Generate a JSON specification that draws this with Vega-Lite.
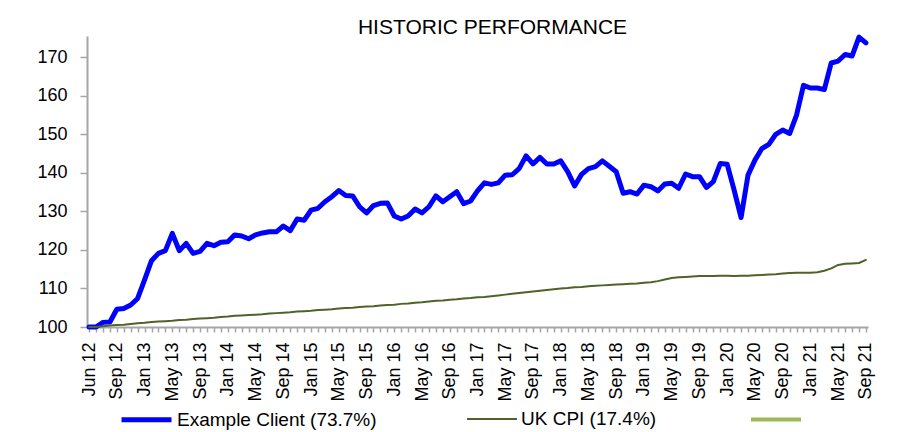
{
  "$schema": "https://vega.github.io/schema/vega-lite/v6.json",
  "width": 781,
  "height": 291,
  "autosize": {"type": "none"},
  "padding": {"left": 87, "top": 36, "right": 37, "bottom": 105},
  "background": "white",
  "title": {"text": "HISTORIC PERFORMANCE", "font": "Liberation Sans", "fontSize": 21, "fontWeight": "normal", "color": "#000000", "anchor": "middle", "dx": 15, "offset": -20, "baseline": "alphabetic"},
  "config": {"view": {"stroke": null}, "font": "Liberation Sans"},
  "data": {"values": [
    {"m": "May 12", "client": 100.0, "cpi": 100.0},
    {"m": "Jun 12", "client": 100.0, "cpi": 100.0},
    {"m": "Jul 12", "client": 101.2, "cpi": 100.2},
    {"m": "Aug 12", "client": 101.3, "cpi": 100.4},
    {"m": "Sep 12", "client": 104.6, "cpi": 100.5},
    {"m": "Oct 12", "client": 104.8, "cpi": 100.6},
    {"m": "Nov 12", "client": 105.7, "cpi": 100.8},
    {"m": "Dec 12", "client": 107.4, "cpi": 101.0},
    {"m": "Jan 13", "client": 112.2, "cpi": 101.1},
    {"m": "Feb 13", "client": 117.2, "cpi": 101.3},
    {"m": "Mar 13", "client": 119.1, "cpi": 101.4},
    {"m": "Apr 13", "client": 119.8, "cpi": 101.5},
    {"m": "May 13", "client": 124.3, "cpi": 101.6},
    {"m": "Jun 13", "client": 119.8, "cpi": 101.8},
    {"m": "Jul 13", "client": 121.7, "cpi": 101.9},
    {"m": "Aug 13", "client": 119.1, "cpi": 102.1},
    {"m": "Sep 13", "client": 119.6, "cpi": 102.2},
    {"m": "Oct 13", "client": 121.7, "cpi": 102.3},
    {"m": "Nov 13", "client": 121.1, "cpi": 102.4},
    {"m": "Dec 13", "client": 122.0, "cpi": 102.6},
    {"m": "Jan 14", "client": 122.1, "cpi": 102.7},
    {"m": "Feb 14", "client": 123.9, "cpi": 102.9},
    {"m": "Mar 14", "client": 123.6, "cpi": 103.0},
    {"m": "Apr 14", "client": 122.9, "cpi": 103.1},
    {"m": "May 14", "client": 123.9, "cpi": 103.2},
    {"m": "Jun 14", "client": 124.4, "cpi": 103.3},
    {"m": "Jul 14", "client": 124.7, "cpi": 103.5},
    {"m": "Aug 14", "client": 124.7, "cpi": 103.6},
    {"m": "Sep 14", "client": 126.2, "cpi": 103.7},
    {"m": "Oct 14", "client": 125.0, "cpi": 103.8},
    {"m": "Nov 14", "client": 128.0, "cpi": 104.0},
    {"m": "Dec 14", "client": 127.7, "cpi": 104.1},
    {"m": "Jan 15", "client": 130.3, "cpi": 104.2},
    {"m": "Feb 15", "client": 130.8, "cpi": 104.4},
    {"m": "Mar 15", "client": 132.5, "cpi": 104.5},
    {"m": "Apr 15", "client": 133.8, "cpi": 104.6},
    {"m": "May 15", "client": 135.4, "cpi": 104.8},
    {"m": "Jun 15", "client": 134.1, "cpi": 104.9},
    {"m": "Jul 15", "client": 134.0, "cpi": 105.0},
    {"m": "Aug 15", "client": 131.2, "cpi": 105.2},
    {"m": "Sep 15", "client": 129.6, "cpi": 105.3},
    {"m": "Oct 15", "client": 131.5, "cpi": 105.4},
    {"m": "Nov 15", "client": 132.1, "cpi": 105.6},
    {"m": "Dec 15", "client": 132.2, "cpi": 105.7},
    {"m": "Jan 16", "client": 128.8, "cpi": 105.8},
    {"m": "Feb 16", "client": 128.0, "cpi": 106.0},
    {"m": "Mar 16", "client": 128.8, "cpi": 106.1},
    {"m": "Apr 16", "client": 130.6, "cpi": 106.3},
    {"m": "May 16", "client": 129.6, "cpi": 106.4},
    {"m": "Jun 16", "client": 131.2, "cpi": 106.6},
    {"m": "Jul 16", "client": 134.0, "cpi": 106.8},
    {"m": "Aug 16", "client": 132.5, "cpi": 106.9},
    {"m": "Sep 16", "client": 133.8, "cpi": 107.1},
    {"m": "Oct 16", "client": 135.1, "cpi": 107.2},
    {"m": "Nov 16", "client": 132.0, "cpi": 107.4},
    {"m": "Dec 16", "client": 132.7, "cpi": 107.5},
    {"m": "Jan 17", "client": 135.3, "cpi": 107.7},
    {"m": "Feb 17", "client": 137.4, "cpi": 107.8},
    {"m": "Mar 17", "client": 137.0, "cpi": 108.0},
    {"m": "Apr 17", "client": 137.4, "cpi": 108.2},
    {"m": "May 17", "client": 139.4, "cpi": 108.4},
    {"m": "Jun 17", "client": 139.5, "cpi": 108.6},
    {"m": "Jul 17", "client": 141.1, "cpi": 108.8},
    {"m": "Aug 17", "client": 144.4, "cpi": 109.0},
    {"m": "Sep 17", "client": 142.3, "cpi": 109.2},
    {"m": "Oct 17", "client": 144.0, "cpi": 109.4},
    {"m": "Nov 17", "client": 142.3, "cpi": 109.6},
    {"m": "Dec 17", "client": 142.3, "cpi": 109.8},
    {"m": "Jan 18", "client": 143.1, "cpi": 110.0},
    {"m": "Feb 18", "client": 140.3, "cpi": 110.1},
    {"m": "Mar 18", "client": 136.6, "cpi": 110.3},
    {"m": "Apr 18", "client": 139.6, "cpi": 110.4},
    {"m": "May 18", "client": 141.1, "cpi": 110.6},
    {"m": "Jun 18", "client": 141.6, "cpi": 110.7},
    {"m": "Jul 18", "client": 143.1, "cpi": 110.8},
    {"m": "Aug 18", "client": 141.7, "cpi": 110.9},
    {"m": "Sep 18", "client": 140.3, "cpi": 111.0},
    {"m": "Oct 18", "client": 134.7, "cpi": 111.1},
    {"m": "Nov 18", "client": 135.1, "cpi": 111.2},
    {"m": "Dec 18", "client": 134.5, "cpi": 111.3},
    {"m": "Jan 19", "client": 136.8, "cpi": 111.5},
    {"m": "Feb 19", "client": 136.4, "cpi": 111.6},
    {"m": "Mar 19", "client": 135.3, "cpi": 111.9},
    {"m": "Apr 19", "client": 137.1, "cpi": 112.3},
    {"m": "May 19", "client": 137.3, "cpi": 112.7},
    {"m": "Jun 19", "client": 136.0, "cpi": 112.9},
    {"m": "Jul 19", "client": 139.7, "cpi": 113.0},
    {"m": "Aug 19", "client": 139.0, "cpi": 113.1},
    {"m": "Sep 19", "client": 139.0, "cpi": 113.2},
    {"m": "Oct 19", "client": 136.2, "cpi": 113.2},
    {"m": "Nov 19", "client": 137.7, "cpi": 113.2},
    {"m": "Dec 19", "client": 142.4, "cpi": 113.3},
    {"m": "Jan 20", "client": 142.2, "cpi": 113.3},
    {"m": "Feb 20", "client": 135.5, "cpi": 113.2},
    {"m": "Mar 20", "client": 128.4, "cpi": 113.3},
    {"m": "Apr 20", "client": 139.4, "cpi": 113.3},
    {"m": "May 20", "client": 143.3, "cpi": 113.4},
    {"m": "Jun 20", "client": 146.3, "cpi": 113.5},
    {"m": "Jul 20", "client": 147.4, "cpi": 113.6},
    {"m": "Aug 20", "client": 150.0, "cpi": 113.7},
    {"m": "Sep 20", "client": 151.1, "cpi": 113.9},
    {"m": "Oct 20", "client": 150.2, "cpi": 114.0},
    {"m": "Nov 20", "client": 155.0, "cpi": 114.1},
    {"m": "Dec 20", "client": 162.7, "cpi": 114.1},
    {"m": "Jan 21", "client": 162.0, "cpi": 114.1},
    {"m": "Feb 21", "client": 162.0, "cpi": 114.2},
    {"m": "Mar 21", "client": 161.6, "cpi": 114.6},
    {"m": "Apr 21", "client": 168.5, "cpi": 115.2},
    {"m": "May 21", "client": 169.0, "cpi": 116.1},
    {"m": "Jun 21", "client": 170.7, "cpi": 116.4},
    {"m": "Jul 21", "client": 170.3, "cpi": 116.5},
    {"m": "Aug 21", "client": 175.2, "cpi": 116.6},
    {"m": "Sep 21", "client": 173.7, "cpi": 117.4}
  ]},
  "transform": [{"fold": ["client", "cpi"], "as": ["series", "value"]}],
  "mark": {"type": "line", "strokeJoin": "round", "strokeCap": "round"},
  "encoding": {
    "x": {
      "field": "m", "type": "ordinal", "sort": null,
      "scale": {"padding": 0.3},
      "axis": {
        "title": null, "labelAngle": 270, "labelFont": "Liberation Sans", "labelFontSize": 18, "labelColor": "#000000",
        "labelPadding": 10, "tickSize": 5, "tickColor": "#A6A6A6", "tickWidth": 1.5,
        "domainColor": "#A6A6A6", "domainWidth": 2, "labelOverlap": false, "labelBound": false, "labelFlush": false,
        "labelExpr": "datum.value == 'May 12' ? 'Jun 12' : (indexof(['Jan', 'May', 'Sep'], slice(datum.value, 0, 3)) >= 0 ? datum.value : '')"
      }
    },
    "y": {
      "field": "value", "type": "quantitative",
      "scale": {"domain": [100, 175.5], "nice": false, "zero": false},
      "axis": {
        "title": null, "values": [100, 110, 120, 130, 140, 150, 160, 170], "grid": false,
        "labelFont": "Liberation Sans", "labelFontSize": 18, "labelColor": "#000000", "labelPadding": 13,
        "tickSize": 7, "tickColor": "#A6A6A6", "tickWidth": 1.5, "domainColor": "#A6A6A6", "domainWidth": 2
      }
    },
    "color": {
      "field": "series", "type": "nominal",
      "scale": {"domain": ["client", "cpi", "other"], "range": ["#0000FF", "#4F6228", "#9BBB59"]},
      "legend": {
        "orient": "none", "legendX": 32, "legendY": 356, "direction": "horizontal", "title": null,
        "symbolType": "stroke", "symbolSize": 2500, "labelFont": "Liberation Sans", "labelFontSize": 19,
        "labelColor": "#000000", "labelOffset": 3, "columnPadding": 86, "labelLimit": 400,
        "labelExpr": "datum.value == 'client' ? 'Example Client (73.7%)' : (datum.value == 'cpi' ? 'UK CPI (17.4%)' : '')"
      }
    },
    "strokeWidth": {
      "field": "series", "type": "nominal",
      "scale": {"type": "ordinal", "domain": ["client", "cpi", "other"], "range": [5, 2, 4]},
      "legend": {
        "orient": "none", "legendX": 32, "legendY": 356, "direction": "horizontal", "title": null,
        "symbolType": "stroke", "symbolSize": 2500, "labelFont": "Liberation Sans", "labelFontSize": 19,
        "labelColor": "#000000", "labelOffset": 3, "columnPadding": 86, "labelLimit": 400,
        "labelExpr": "datum.value == 'client' ? 'Example Client (73.7%)' : (datum.value == 'cpi' ? 'UK CPI (17.4%)' : '')"
      }
    }
  }
}
